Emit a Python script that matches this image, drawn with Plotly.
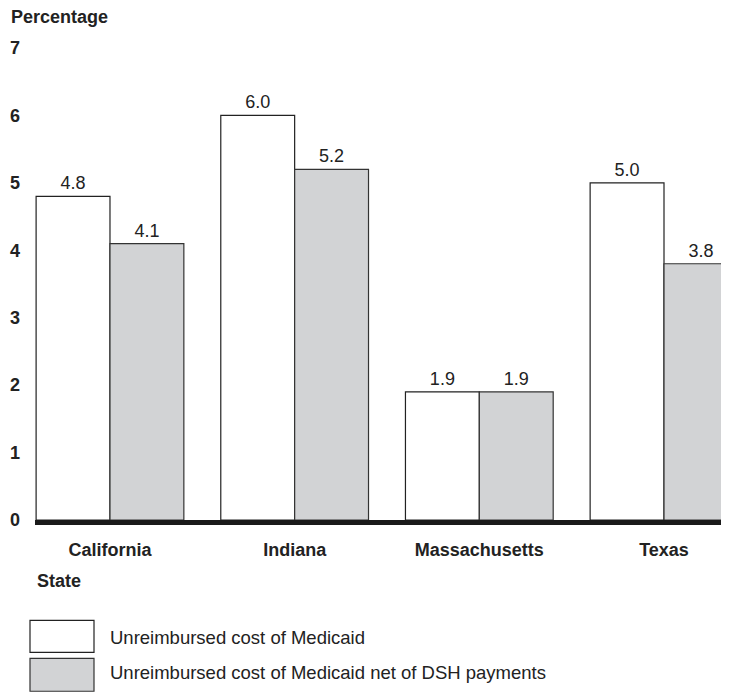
import plotly.graph_objects as go

states = ["California", "Indiana", "Massachusetts", "Texas"]
unreimbursed = [4.8, 6.0, 1.9, 5.0]
net_of_dsh = [4.1, 5.2, 1.9, 3.8]
series_names = ["Unreimbursed cost of Medicaid",
                "Unreimbursed cost of Medicaid net of DSH payments"]
y_ticks = [0, 1, 2, 3, 4, 5, 6, 7]

FONT = "Liberation Sans, Arial, sans-serif"
GRAY = "#d2d3d5"
INK = "#222222"

fig = go.Figure()
fig.add_trace(go.Bar(
    x=states, y=unreimbursed, name=series_names[0],
    marker=dict(color="white", line=dict(color=INK, width=1.2)),
    text=[f"{v:.1f}" for v in unreimbursed], textposition="outside",
    textfont=dict(family=FONT, size=18, color=INK), cliponaxis=False,
))
fig.add_trace(go.Bar(
    x=states, y=net_of_dsh, name=series_names[1],
    marker=dict(color=GRAY, line=dict(color="#333333", width=1.2)),
    text=[f"{v:.1f}" for v in net_of_dsh], textposition="outside",
    textfont=dict(family=FONT, size=18, color=INK), cliponaxis=False,
))

# page body has an 8px margin, so the figure starts at screen (8, 8)
OFF = 8
W, H = 721, 684
ml, mr, mt = 27, 0, 47.5 - OFF
mb = H - (520.4 - OFF)
plot_w = W - ml - mr
plot_h = H - mt - mb


def sx(px):
    return (px - OFF - ml) / plot_w


def sy(py):
    return (H - mb - (py - OFF)) / plot_h


fig.update_layout(
    width=W, height=H,
    margin=dict(l=ml, r=mr, t=mt, b=mb, autoexpand=False),
    paper_bgcolor="white", plot_bgcolor="white",
    barmode="group", bargap=0.2, bargroupgap=0,
    showlegend=False,
    font=dict(family=FONT, color=INK),
    xaxis=dict(
        range=[-0.406, 3.352], showgrid=False, zeroline=False,
        showline=True, linewidth=5, linecolor="#1a1a1a",
        ticks="", tickfont=dict(family=FONT, size=18, color=INK, weight="bold"),
        ticklabelstandoff=9,
    ),
    yaxis=dict(
        range=[0, 7], tickvals=y_ticks, showgrid=False, zeroline=False,
        showline=False, ticks="",
        tickfont=dict(family=FONT, size=18, color=INK, weight="bold"),
        ticklabelstandoff=14,
    ),
)

# axis titles
fig.add_annotation(text="<b>Percentage</b>", xref="paper", yref="paper",
                   x=sx(9), y=sy(16), xanchor="left", yanchor="middle",
                   showarrow=False, font=dict(family=FONT, size=18, color=INK))
fig.add_annotation(text="<b>State</b>", xref="paper", yref="paper",
                   x=sx(35), y=sy(582), xanchor="left", yanchor="middle",
                   showarrow=False, font=dict(family=FONT, size=18, color=INK))

# legend drawn manually
legend_boxes = [(621, 653, "white", INK, 638), (659, 692, GRAY, "#333333", 673)]
for (y0, y1, fill, edge, ty), name in zip(legend_boxes, series_names):
    fig.add_shape(type="rect", xref="paper", yref="paper",
                  x0=sx(30), x1=sx(94), y0=sy(y1), y1=sy(y0),
                  fillcolor=fill, line=dict(color=edge, width=1.2))
    fig.add_annotation(text=name, xref="paper", yref="paper",
                       x=sx(108), y=sy(ty), xanchor="left", yanchor="middle",
                       showarrow=False,
                       font=dict(family=FONT, size=18.5, color=INK))

fig.write_html("out.html")
